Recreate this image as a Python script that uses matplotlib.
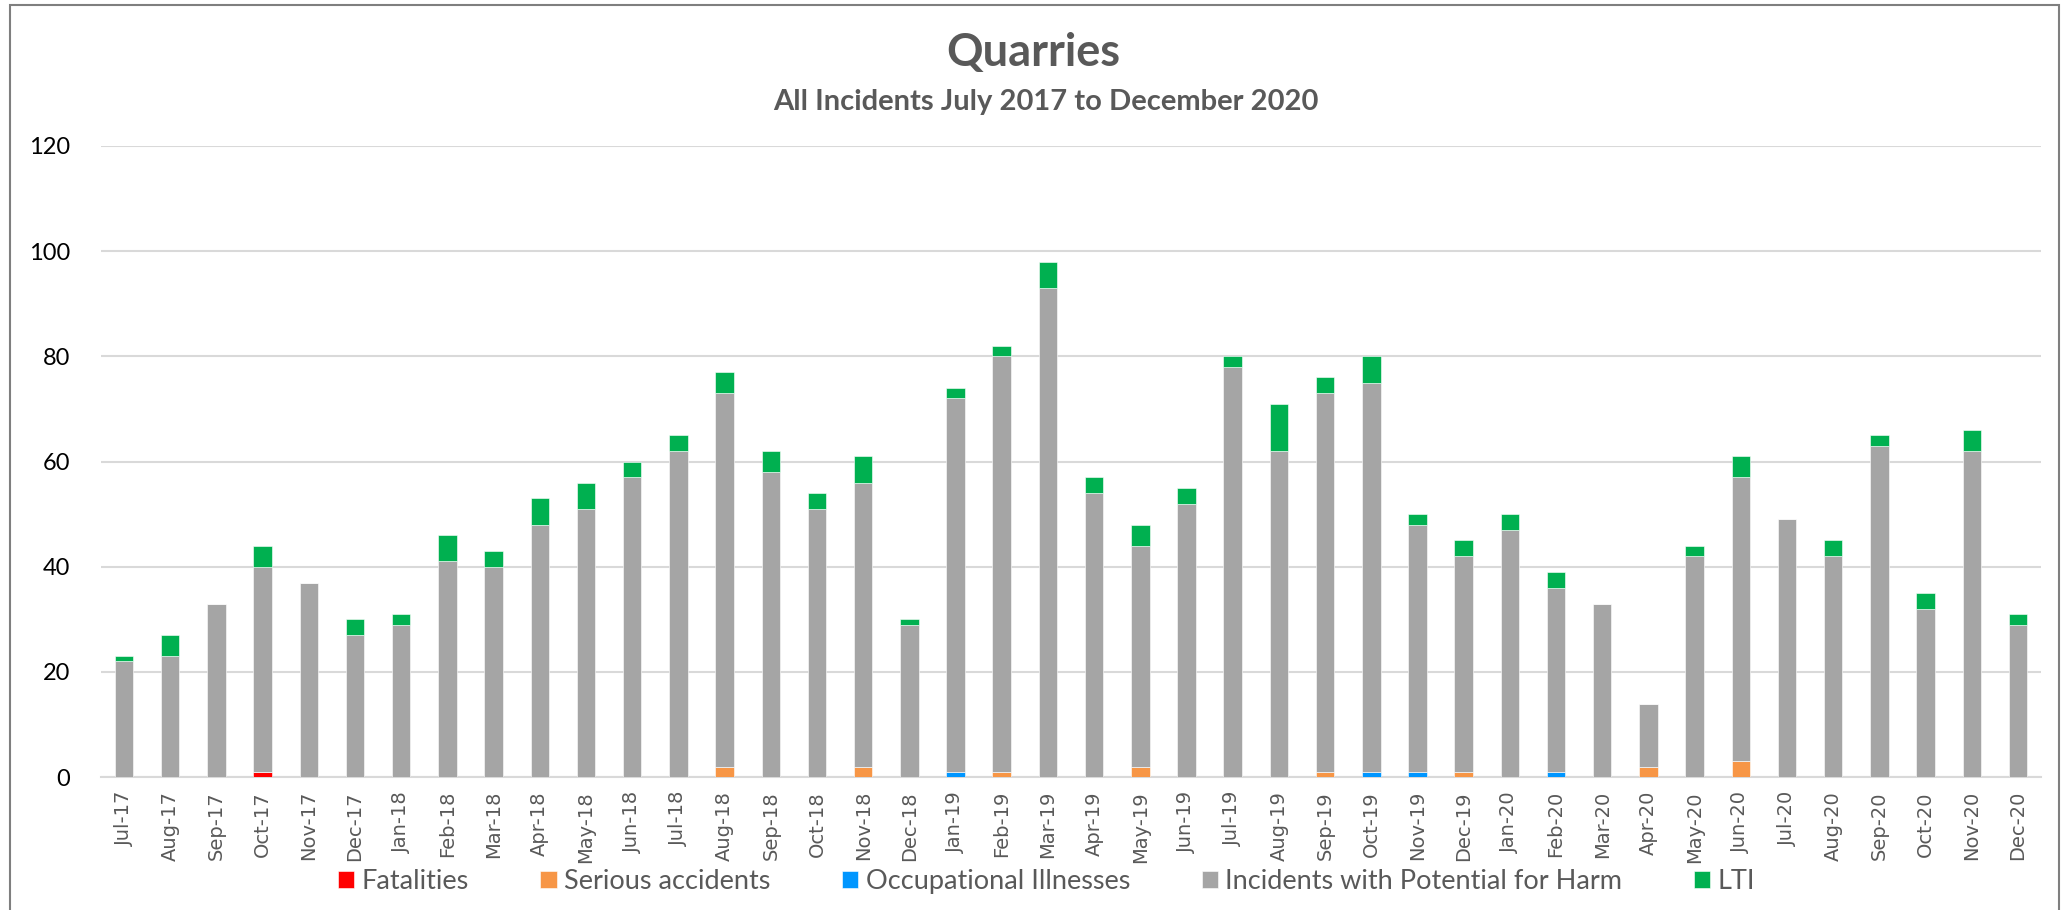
import numpy as np
import matplotlib
matplotlib.use("Agg")
import matplotlib.pyplot as plt
from matplotlib.patches import Rectangle

# monthly figures, Jul-17 .. Dec-20
months = ['Jul-17', 'Aug-17', 'Sep-17', 'Oct-17', 'Nov-17', 'Dec-17',
          'Jan-18', 'Feb-18', 'Mar-18', 'Apr-18', 'May-18', 'Jun-18',
          'Jul-18', 'Aug-18', 'Sep-18', 'Oct-18', 'Nov-18', 'Dec-18',
          'Jan-19', 'Feb-19', 'Mar-19', 'Apr-19', 'May-19', 'Jun-19',
          'Jul-19', 'Aug-19', 'Sep-19', 'Oct-19', 'Nov-19', 'Dec-19',
          'Jan-20', 'Feb-20', 'Mar-20', 'Apr-20', 'May-20', 'Jun-20',
          'Jul-20', 'Aug-20', 'Sep-20', 'Oct-20', 'Nov-20', 'Dec-20']

fatalities = [0, 0, 0, 1, 0, 0, 0, 0, 0, 0, 0, 0,
              0, 0, 0, 0, 0, 0, 0, 0, 0, 0, 0, 0,
              0, 0, 0, 0, 0, 0, 0, 0, 0, 0, 0, 0,
              0, 0, 0, 0, 0, 0]
serious = [0, 0, 0, 0, 0, 0, 0, 0, 0, 0, 0, 0,
           0, 2, 0, 0, 2, 0, 0, 1, 0, 0, 2, 0,
           0, 0, 1, 0, 0, 1, 0, 0, 0, 2, 0, 3,
           0, 0, 0, 0, 0, 0]
occupational = [0, 0, 0, 0, 0, 0, 0, 0, 0, 0, 0, 0,
                0, 0, 0, 0, 0, 0, 1, 0, 0, 0, 0, 0,
                0, 0, 0, 1, 1, 0, 0, 1, 0, 0, 0, 0,
                0, 0, 0, 0, 0, 0]
# top of the grey part of each bar (serious + occupational + potential harm)
grey_top = [22, 23, 33, 40, 37, 27, 29, 41, 40, 48, 51, 57,
            62, 73, 58, 51, 56, 29, 72, 80, 93, 54, 44, 52,
            78, 62, 73, 75, 48, 42, 47, 36, 33, 14, 42, 57,
            49, 42, 63, 32, 62, 29]
totals = [23, 27, 33, 44, 37, 30, 31, 46, 43, 53, 56, 60,
          65, 77, 62, 54, 61, 30, 74, 82, 98, 57, 48, 55,
          80, 71, 76, 80, 50, 45, 50, 39, 33, 14, 44, 61,
          49, 45, 65, 35, 66, 31]

fat = np.array(fatalities)
ser = np.array(serious)
occ = np.array(occupational)
potential = np.array(grey_top) - ser - occ - fat
lti = np.array(totals) - np.array(grey_top)

txt = '#595959'
plt.rcParams['font.family'] = ['Lato', 'DejaVu Sans']

fig = plt.figure(figsize=(20.69, 9.10), dpi=100)
ax = fig.add_axes([0.0488, 0.146, 0.9377, 0.6936])

x = np.arange(len(months))
w = 0.4
bottom = np.zeros(len(months))
series = [(fat, '#FF0000', 'Fatalities'),
          (ser, '#F79646', 'Serious accidents'),
          (occ, '#0096FF', 'Occupational Illnesses'),
          (potential, '#A5A5A5', 'Incidents with Potential for Harm'),
          (lti, '#00B050', 'LTI')]
for vals, col, lab in series:
    ax.bar(x, vals, w, bottom=bottom, color=col, label=lab,
           edgecolor='white', linewidth=0.4, zorder=3)
    bottom = bottom + vals

ax.set_xlim(-0.5, len(months) - 0.5)
ax.set_ylim(0, 120)
ax.set_yticks(range(0, 121, 20))
ax.yaxis.grid(True, color='#D9D9D9', linewidth=1.5, zorder=0)
for s in ['top', 'right', 'left']:
    ax.spines[s].set_visible(False)
ax.spines['bottom'].set_color('#D9D9D9')
ax.spines['bottom'].set_linewidth(1.5)
ax.tick_params(axis='both', length=0)
ax.tick_params(axis='y', labelsize=17, labelcolor='black', pad=22)
ax.set_xticks(x)
ax.set_xticklabels(months, rotation=90, fontsize=14, color=txt,
                   family='DejaVu Sans')
ax.tick_params(axis='x', pad=10)

fig.text(0.4994, 0.942, 'Quarries', ha='center', va='center',
         fontsize=32.5, fontweight='bold', color=txt)
fig.text(0.5057, 0.888, 'All Incidents July 2017 to December 2020',
         ha='center', va='center', fontsize=21, fontweight='bold', color=txt)

leg = fig.legend(loc='center', bbox_to_anchor=(338 / 2069, 0.0, 1417 / 2069, 0.062),
                 mode='expand', ncol=5, frameon=False, fontsize=19.5,
                 handlelength=0.6, handleheight=0.6, handletextpad=0.28,
                 borderpad=0, borderaxespad=0)
for t in leg.get_texts():
    t.set_color(txt)

# chart frame
fig.patches.append(Rectangle((0.005, -0.01), 0.99, 1.004,
                             transform=fig.transFigure, fill=False,
                             edgecolor='#7F7F7F', linewidth=1.5))

fig.savefig('out.png', dpi=100)
